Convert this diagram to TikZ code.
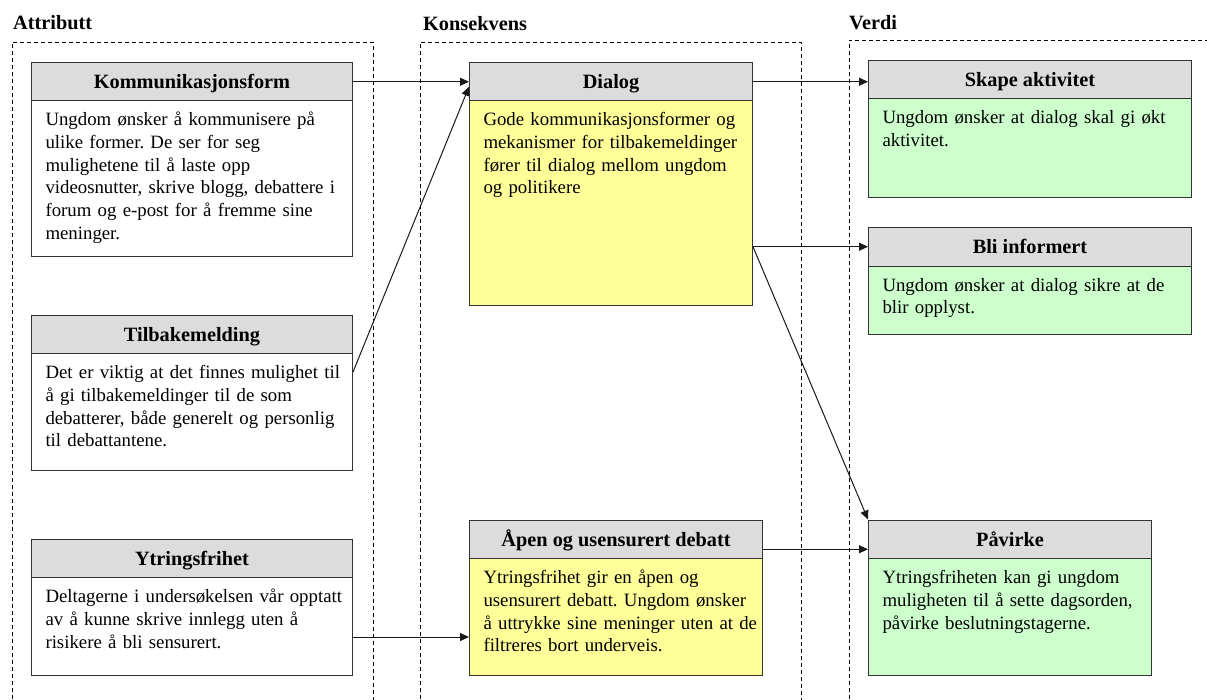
\documentclass[tikz,border=0pt]{standalone}
\usepackage{fontspec}
\setmainfont{Liberation Serif}
\usetikzlibrary{arrows.meta}
\definecolor{hgray}{HTML}{DCDCDC}
\definecolor{yel}{HTML}{FFFF99}
\definecolor{grn}{HTML}{CCFFCC}
\definecolor{edge}{HTML}{333333}
% body text with a 14pt left margin inside its box
\newcommand\indenttext[1]{\frenchspacing\leftskip=14pt\relax #1\par}
\begin{document}
\begin{tikzpicture}[x=1pt,y=-1pt,
  cont/.style={draw=black, line width=0.9pt, dash pattern=on 4pt off 3pt},
  coltitle/.style={anchor=base west, inner sep=0pt, font=\bfseries\fontsize{20.3pt}{24pt}\selectfont},
  head/.style={draw=edge, line width=1pt, fill=hgray, anchor=north west, inner sep=0pt,
    minimum width=#1, minimum height=38.5pt, text height=14pt, text depth=0pt,
    font=\bfseries\fontsize{20.3pt}{24pt}\selectfont},
  body/.style 2 args={draw=edge, line width=1pt, anchor=north west, inner sep=0pt,
    text width=#1, align=left, text height=25pt, text depth=#2,
    font=\fontsize{18.8pt}{22.8pt}\selectfont},
  arr/.style={draw=black!90, line width=1pt, -{Triangle[length=9pt,width=8pt]}}]

\path[use as bounding box] (0,0) rectangle (1207,699);
\clip (0,0) rectangle (1207,699);
\fill[white] (0,0) rectangle (1207,699);

% column frames
\draw[cont] (12,720) -- (12,42) -- (373,42) -- (373,720);
\draw[cont] (420,720) -- (420,42) -- (801,42) -- (801,720);
\draw[cont] (849,720) -- (849,40) -- (1220,40);

% column titles
\node[coltitle] (tattr) at (13,29) {Attributt};
\node[coltitle] (tkons) at (423,30) {Konsekvens};
\node[coltitle] (tverd) at (849,29) {Verdi};

% Attributt
\node[head=321pt] (kh) at (31,62) {Kommunikasjonsform};
\node[body={321pt}{131pt}, fill=white] (kb) at (31,100) {\indenttext{%
Ungdom ønsker å kommunisere på\\
ulike former. De ser for seg\\
mulighetene til å laste opp\\
videosnutter, skrive blogg, debattere i\\
forum og e-post for å fremme sine\\
meninger.}};

\node[head=321pt] (th) at (31,314.5) {Tilbakemelding};
\node[body={321pt}{92pt}, fill=white] (tb) at (31,353) {\indenttext{%
Det er viktig at det finnes mulighet til\\
å gi tilbakemeldinger til de som\\
debatterer, både generelt og personlig\\
til debattantene.}};

\node[head=321pt] (yh) at (31,538.5) {Ytringsfrihet};
\node[body={321pt}{73pt}, fill=white] (yb) at (31,577) {\indenttext{%
Deltagerne i undersøkelsen vår opptatt\\
av å kunne skrive innlegg uten å\\
risikere å bli sensurert.}};

% Konsekvens
\node[head=283pt] (dh) at (469,62) {Dialog};
\node[body={283pt}{180pt}, fill=yel] (db) at (469,100) {\indenttext{%
Gode kommunikasjonsformer og\\
mekanismer for tilbakemeldinger\\
fører til dialog mellom ungdom\\
og politikere}};

\node[head=293pt] (ah) at (469,519.5) {Åpen og usensurert debatt};
\node[body={293pt}{92pt}, fill=yel] (ab) at (469,558) {\indenttext{%
Ytringsfrihet gir en åpen og\\
usensurert debatt. Ungdom ønsker\\
å uttrykke sine meninger uten at de\\
filtreres bort underveis.}};

% Verdi
\node[head=323pt] (sh) at (868,59.5) {Skape aktivitet};
\node[body={323pt}{74pt}, fill=grn] (sb) at (868,98) {\indenttext{%
Ungdom ønsker at dialog skal gi økt\\
aktivitet.}};

\node[head=323pt] (bh) at (868,227) {Bli informert};
\node[body={323pt}{43pt}, fill=grn] (bb) at (868,265.5) {\indenttext{%
Ungdom ønsker at dialog sikre at de\\
blir opplyst.}};

\node[head=283pt] (ph) at (868,519.5) {Påvirke};
\node[body={283pt}{92pt}, fill=grn] (pb) at (868,558) {\indenttext{%
Ytringsfriheten kan gi ungdom\\
muligheten til å sette dagsorden,\\
påvirke beslutningstagerne.}};

% connectors
\draw[arr] (kh.east) -- (dh.west);
\draw[arr] ([yshift=-19pt]tb.north east) -- ([yshift=-5pt]dh.west);
\draw[arr] ([yshift=-60pt]yb.north east) -- ([yshift=-79pt]ab.north west);
\draw[arr] (dh.east) -- (sh.west |- dh.east);
\draw[arr] (db.east |- bh.west) -- (bh.west);
\draw[arr] (db.east |- bh.west) -- (ph.north west);
\draw[arr] ([yshift=-10pt]ah.east) -- ([yshift=-10pt]ph.west);
\end{tikzpicture}
\end{document}
